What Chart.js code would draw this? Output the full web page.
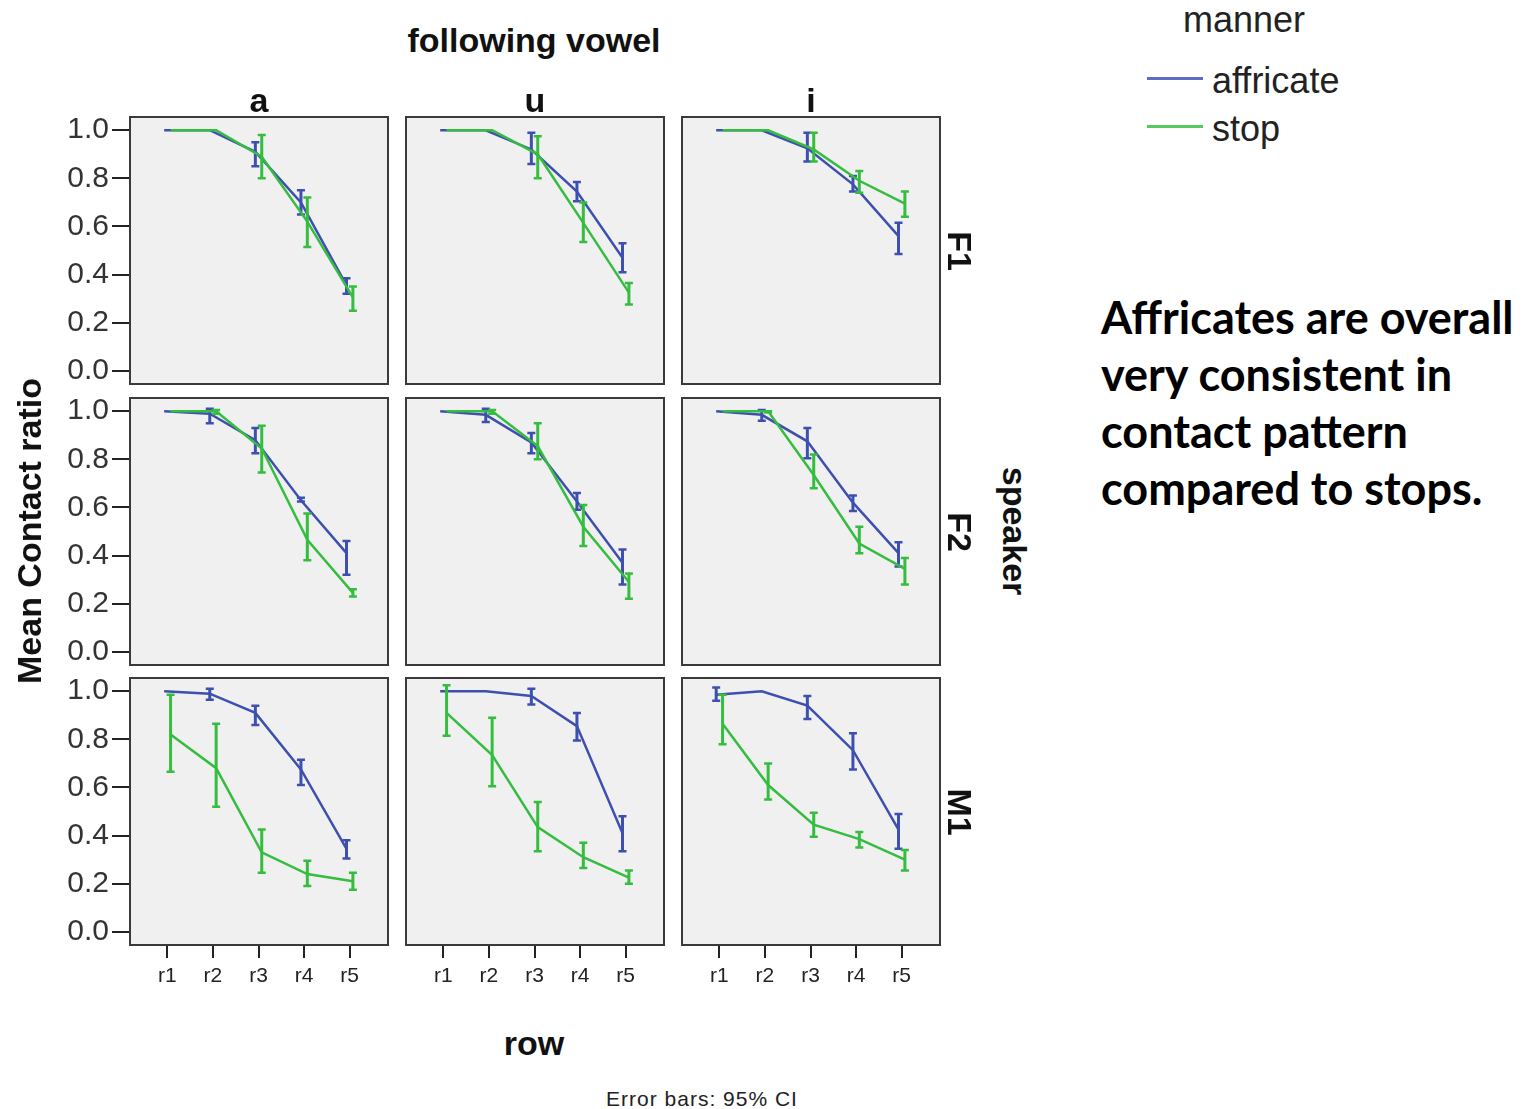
<!DOCTYPE html>
<html><head><meta charset="utf-8">
<script src="https://cdn.jsdelivr.net/npm/chart.js@4.4.0/dist/chart.umd.min.js"></script>
<style>
html,body{margin:0;padding:0;background:#fff;}
#root{position:relative;width:1524px;height:1109px;overflow:hidden;font-family:"Liberation Sans",Arial,sans-serif;color:#111;}
canvas{position:absolute;}
.t{position:absolute;white-space:nowrap;line-height:1;}
</style></head><body><div id="root"></div>
<script>
// ---------- DATA ----------
const rowLabels = ['r1','r2','r3','r4','r5'];
const vowels = ['a','u','i'];
const speakers = ['F1','F2','M1'];
const manners = ['affricate','stop'];
const yTickValues = [0, 0.2, 0.4, 0.6, 0.8, 1.0];

// each array: [vowel a, vowel u, vowel i], each with values for r1..r5
const affricateF1Mean = [[1.0,1.0,0.91,0.70,0.355],[1.0,1.0,0.92,0.745,0.47],[1.0,1.0,0.925,0.775,0.56]];
const affricateF1Lo   = [[1.0,1.0,0.85,0.65,0.32],[1.0,1.0,0.86,0.705,0.41],[1.0,1.0,0.87,0.745,0.485]];
const affricateF1Hi   = [[1.0,1.0,0.95,0.75,0.385],[1.0,1.0,0.99,0.785,0.53],[1.0,1.0,0.99,0.81,0.615]];
const stopF1Mean = [[1.0,1.0,0.89,0.62,0.305],[1.0,1.0,0.90,0.615,0.325],[1.0,1.0,0.92,0.79,0.695]];
const stopF1Lo   = [[1.0,1.0,0.80,0.515,0.25],[1.0,1.0,0.80,0.535,0.275],[1.0,1.0,0.87,0.74,0.64]];
const stopF1Hi   = [[1.0,1.0,0.98,0.72,0.35],[1.0,1.0,0.975,0.70,0.365],[1.0,1.0,0.99,0.83,0.745]];

const affricateF2Mean = [[1.0,0.99,0.88,0.63,0.41],[1.0,0.985,0.87,0.625,0.37],[1.0,0.985,0.875,0.62,0.41]];
const affricateF2Lo   = [[1.0,0.95,0.825,0.625,0.32],[1.0,0.955,0.825,0.59,0.28],[1.0,0.96,0.805,0.585,0.355]];
const affricateF2Hi   = [[1.0,1.01,0.93,0.64,0.46],[1.0,1.01,0.91,0.66,0.425],[1.0,1.005,0.93,0.65,0.455]];
const stopF2Mean = [[1.0,1.0,0.845,0.465,0.245],[1.0,1.0,0.855,0.52,0.29],[1.0,1.0,0.735,0.45,0.345]];
const stopF2Lo   = [[1.0,0.99,0.745,0.38,0.23],[1.0,0.99,0.80,0.44,0.22],[1.0,0.995,0.68,0.41,0.28]];
const stopF2Hi   = [[1.0,1.005,0.94,0.575,0.26],[1.0,1.005,0.95,0.61,0.325],[1.0,1.0,0.82,0.52,0.39]];

const affricateM1Mean = [[1.0,0.99,0.91,0.675,0.345],[1.0,1.0,0.98,0.855,0.41],[0.985,1.0,0.94,0.755,0.425]];
const affricateM1Lo   = [[1.0,0.965,0.86,0.61,0.305],[1.0,1.0,0.945,0.795,0.335],[0.96,1.0,0.885,0.675,0.345]];
const affricateM1Hi   = [[1.0,1.01,0.94,0.715,0.38],[1.0,1.0,1.01,0.91,0.48],[1.015,1.0,0.98,0.825,0.49]];
const stopM1Mean = [[0.82,0.68,0.33,0.24,0.21],[0.91,0.735,0.435,0.31,0.225],[0.865,0.61,0.445,0.385,0.30]];
const stopM1Lo   = [[0.665,0.52,0.245,0.19,0.175],[0.815,0.605,0.335,0.265,0.20],[0.78,0.55,0.395,0.35,0.255]];
const stopM1Hi   = [[0.985,0.865,0.425,0.295,0.245],[1.025,0.89,0.54,0.37,0.255],[0.985,0.70,0.495,0.415,0.34]];

const seriesBySpeaker = {
  F1: {affricate:[affricateF1Mean,affricateF1Lo,affricateF1Hi], stop:[stopF1Mean,stopF1Lo,stopF1Hi]},
  F2: {affricate:[affricateF2Mean,affricateF2Lo,affricateF2Hi], stop:[stopF2Mean,stopF2Lo,stopF2Hi]},
  M1: {affricate:[affricateM1Mean,affricateM1Lo,affricateM1Hi], stop:[stopM1Mean,stopM1Lo,stopM1Hi]}
};

// ---------- STYLE / LAYOUT ----------
const colors = {affricate:'#3d50b0', stop:'#34bd3f'};
const dodge = {affricate:-0.07, stop:0.07};
const order = {affricate:1, stop:0};
const L = {colLeft:[130,406,682], rowTop:[117,398,678], w:258, h:267, yAxisW:130, xAxisH:62, pad:4};
const FONT = '"Liberation Sans", Arial, sans-serif';
const root = document.getElementById('root');

const panelPlugin = {
  id:'panel',
  beforeDraw(chart){
    const a = chart.chartArea, ctx = chart.ctx;
    ctx.save(); ctx.fillStyle = '#f0f0f0';
    ctx.fillRect(a.left, a.top, a.right-a.left, a.bottom-a.top);
    ctx.restore();
  },
  afterDatasetDraw(chart, args){
    const ds = chart.data.datasets[args.index];
    const xs = chart.scales.x, ys = chart.scales.y, ctx = chart.ctx;
    ctx.save();
    ctx.strokeStyle = ds.borderColor; ctx.lineCap = 'butt';
    ds.data.forEach((p, i) => {
      const lo = ds.errLo[i], hi = ds.errHi[i];
      if (hi - lo < 0.002) return;
      const x = xs.getPixelForValue(p.x), y1 = ys.getPixelForValue(lo), y2 = ys.getPixelForValue(hi);
      ctx.lineWidth = 3;
      ctx.beginPath(); ctx.moveTo(x, y1); ctx.lineTo(x, y2); ctx.stroke();
      ctx.lineWidth = 2.5;
      ctx.beginPath(); ctx.moveTo(x-4, y1); ctx.lineTo(x+4, y1); ctx.moveTo(x-4, y2); ctx.lineTo(x+4, y2); ctx.stroke();
    });
    ctx.restore();
  },
  afterDraw(chart){
    const a = chart.chartArea, ctx = chart.ctx;
    ctx.save(); ctx.strokeStyle = '#3a3a3a'; ctx.lineWidth = 2;
    ctx.strokeRect(a.left, a.top, a.right-a.left, a.bottom-a.top);
    ctx.restore();
  }
};

speakers.forEach((spk, r) => {
  vowels.forEach((vw, c) => {
    const showY = c === 0, showX = r === 2;
    const left = showY ? 0 : L.colLeft[c] - L.pad;
    const top = L.rowTop[r] - L.pad;
    const width = (showY ? L.colLeft[0] : L.pad) + L.w + L.pad;
    const bottomPad = showX ? 0 : 12;
    const height = L.pad + L.h + (showX ? L.xAxisH : bottomPad);
    const cv = document.createElement('canvas');
    cv.width = width; cv.height = height;
    cv.style.left = left + 'px'; cv.style.top = top + 'px';
    cv.style.width = width + 'px'; cv.style.height = height + 'px';
    root.appendChild(cv);

    const datasets = manners.map(m => {
      const [mean, lo, hi] = seriesBySpeaker[spk][m];
      return {
        label: m,
        data: mean[c].map((v, i) => ({x: i + 1 + dodge[m], y: v})),
        errLo: lo[c], errHi: hi[c],
        borderColor: colors[m], backgroundColor: colors[m],
        borderWidth: 2.5, pointRadius: 0, tension: 0, fill: false,
        order: order[m]
      };
    });

    new Chart(cv.getContext('2d'), {
      type: 'line',
      data: {datasets},
      plugins: [panelPlugin],
      options: {
        responsive: false, maintainAspectRatio: false, animation: false, devicePixelRatio: 1,
        layout: {padding: {left: showY ? 0 : L.pad, right: L.pad, top: L.pad, bottom: bottomPad}},
        plugins: {legend: {display: false}, tooltip: {enabled: false}},
        scales: {
          x: {
            type: 'linear', min: 0.18, max: 5.84, display: showX,
            afterBuildTicks: s => { s.ticks = rowLabels.map((_, i) => ({value: i + 1})); },
            afterFit: s => { if (showX) { s.height = L.xAxisH; s.paddingLeft = 0; s.paddingRight = 0; } },
            ticks: {callback: v => rowLabels[Math.round(v) - 1], font: {size: 21, family: FONT}, color: '#222', padding: 6, maxRotation: 0, autoSkip: false},
            grid: {drawOnChartArea: false, drawTicks: true, tickLength: 13, color: '#222', lineWidth: 2},
            border: {display: false}
          },
          y: {
            type: 'linear', min: -0.055, max: 1.055, display: showY,
            afterBuildTicks: s => { s.ticks = yTickValues.map(v => ({value: v})); },
            afterFit: s => { if (showY) { s.width = L.yAxisW; s.paddingTop = 0; s.paddingBottom = 0; } },
            ticks: {callback: v => Number(v).toFixed(1), font: {size: 30, family: FONT}, color: '#333', padding: 3, autoSkip: false},
            grid: {drawOnChartArea: false, drawTicks: true, tickLength: 18, color: '#222', lineWidth: 2},
            border: {display: false}
          }
        }
      }
    });
  });
});

// ---------- TEXT ----------
function txt(s, x, y, css, rot) {
  const d = document.createElement('div');
  d.className = 't'; d.textContent = s;
  d.style.cssText += css;
  d.style.left = x + 'px'; d.style.top = y + 'px';
  d.style.transform = 'translate(-50%,-50%)' + (rot ? ' rotate(' + rot + 'deg)' : '');
  root.appendChild(d);
  return d;
}
const B = 'font-weight:bold;font-size:34px;';
txt('following vowel', 534, 40, B);
vowels.forEach((v, c) => txt(v, L.colLeft[c] + L.w / 2, 100, B));
speakers.forEach((s, r) => txt(s, 960, L.rowTop[r] + L.h / 2, B, 90));
txt('speaker', 1015, 531, B, 90);
txt('Mean Contact ratio', 29, 531, B, -90);
txt('row', 534, 1043, B);
txt('Error bars: 95% CI', 702, 1098, 'font-size:21px;letter-spacing:1px;color:#222;');

// legend
txt('manner', 1244, 20, 'font-size:36px;color:#222;');
const legendItems = [{m:'affricate', y:79, c:'#5b6ec4'}, {m:'stop', y:127, c:'#55c95e'}];
legendItems.forEach(it => {
  const ln = document.createElement('div');
  ln.style.cssText = 'position:absolute;left:1147px;width:56px;height:3px;top:' + (it.y - 2) + 'px;background:' + it.c + ';';
  root.appendChild(ln);
  const t = txt(it.m, 1212, it.y + 2, 'font-size:36px;color:#222;');
  t.style.transform = 'translate(0,-50%)';
});

// annotation
const note = document.createElement('div');
note.style.cssText = 'position:absolute;left:1101px;top:289px;font-family:Lato,"Open Sans",sans-serif;font-weight:bold;font-size:45px;line-height:57px;color:#000;white-space:nowrap;';
note.innerHTML = 'Affricates are overall<br>very consistent in<br>contact pattern<br>compared to stops.';
root.appendChild(note);
</script>
</body></html>
